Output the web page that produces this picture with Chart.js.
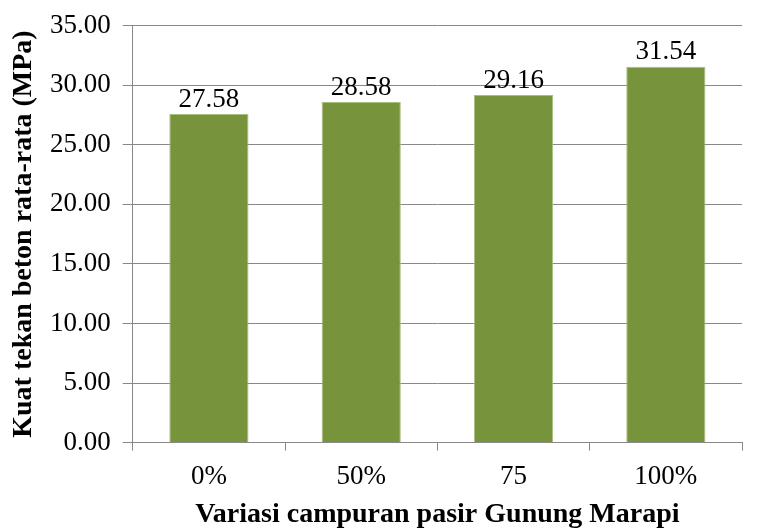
<!DOCTYPE html>
<html>
<head>
<meta charset="utf-8">
<script src="https://cdn.jsdelivr.net/npm/chart.js@4/dist/chart.umd.min.js"></script>
<style>
  html, body { margin: 0; padding: 0; background: #fff; }
  #wrap { width: 760px; height: 529px; }
</style>
</head>
<body>
<div id="wrap"><canvas id="chart" width="760" height="529"></canvas></div>
<script>
// chart data
const categories = ["0%", "50%", "75", "100%"];
const strengths = [27.58, 28.58, 29.16, 31.54];
const yTicks = [0, 5, 10, 15, 20, 25, 30, 35];

const serif = "'Liberation Serif', 'Times New Roman', serif";

// draw value above each bar
const valueLabels = {
    id: "valueLabels",
    afterDatasetsDraw(chart) {
        const ctx = chart.ctx;
        const meta = chart.getDatasetMeta(0);
        ctx.save();
        ctx.font = "27px " + serif;
        ctx.fillStyle = "#000";
        ctx.textAlign = "center";
        ctx.textBaseline = "bottom";
        meta.data.forEach((bar, i) => {
            ctx.fillText(strengths[i].toFixed(2), bar.x, bar.y - 1);
        });
        ctx.restore();
    }
};

new Chart(document.getElementById("chart"), {
    type: "bar",
    data: {
        labels: categories,
        datasets: [{
            data: strengths,
            backgroundColor: "#77933C",
            borderColor: "#A9BF7E",
            borderWidth: 1,
            barPercentage: 0.52,
            categoryPercentage: 1
        }]
    },
    options: {
        responsive: false,
        animation: false,
        layout: { padding: { top: 0, right: 18, left: 10, bottom: 0 } },
        plugins: {
            legend: { display: false },
            tooltip: { enabled: false }
        },
        scales: {
            x: {
                grid: {
                    drawOnChartArea: false,
                    drawTicks: true,
                    tickLength: 8,
                    color: "#888"
                },
                border: { color: "#888", width: 1 },
                ticks: {
                    color: "#000",
                    font: { family: serif, size: 27, lineHeight: 1.2 },
                    padding: 10
                },
                title: {
                    display: true,
                    text: "Variasi campuran pasir Gunung Marapi",
                    color: "#000",
                    font: { family: serif, size: 28, weight: "bold", lineHeight: 1 },
                    padding: { top: -2, bottom: 0 }
                }
            },
            y: {
                min: 0,
                max: 35,
                afterBuildTicks(axis) {
                    axis.ticks = yTicks.map(v => ({ value: v }));
                },
                grid: {
                    color: "#888",
                    tickLength: 10
                },
                border: { color: "#888", width: 1 },
                ticks: {
                    color: "#000",
                    font: { family: serif, size: 27, lineHeight: 1 },
                    padding: 12,
                    callback: v => Number(v).toFixed(2)
                },
                title: {
                    display: true,
                    text: "Kuat tekan beton rata-rata (MPa)",
                    color: "#000",
                    font: { family: serif, size: 28, weight: "bold", lineHeight: 1 },
                    padding: { top: 0, bottom: 0 }
                }
            }
        }
    },
    plugins: [valueLabels]
});
</script>
</body>
</html>
